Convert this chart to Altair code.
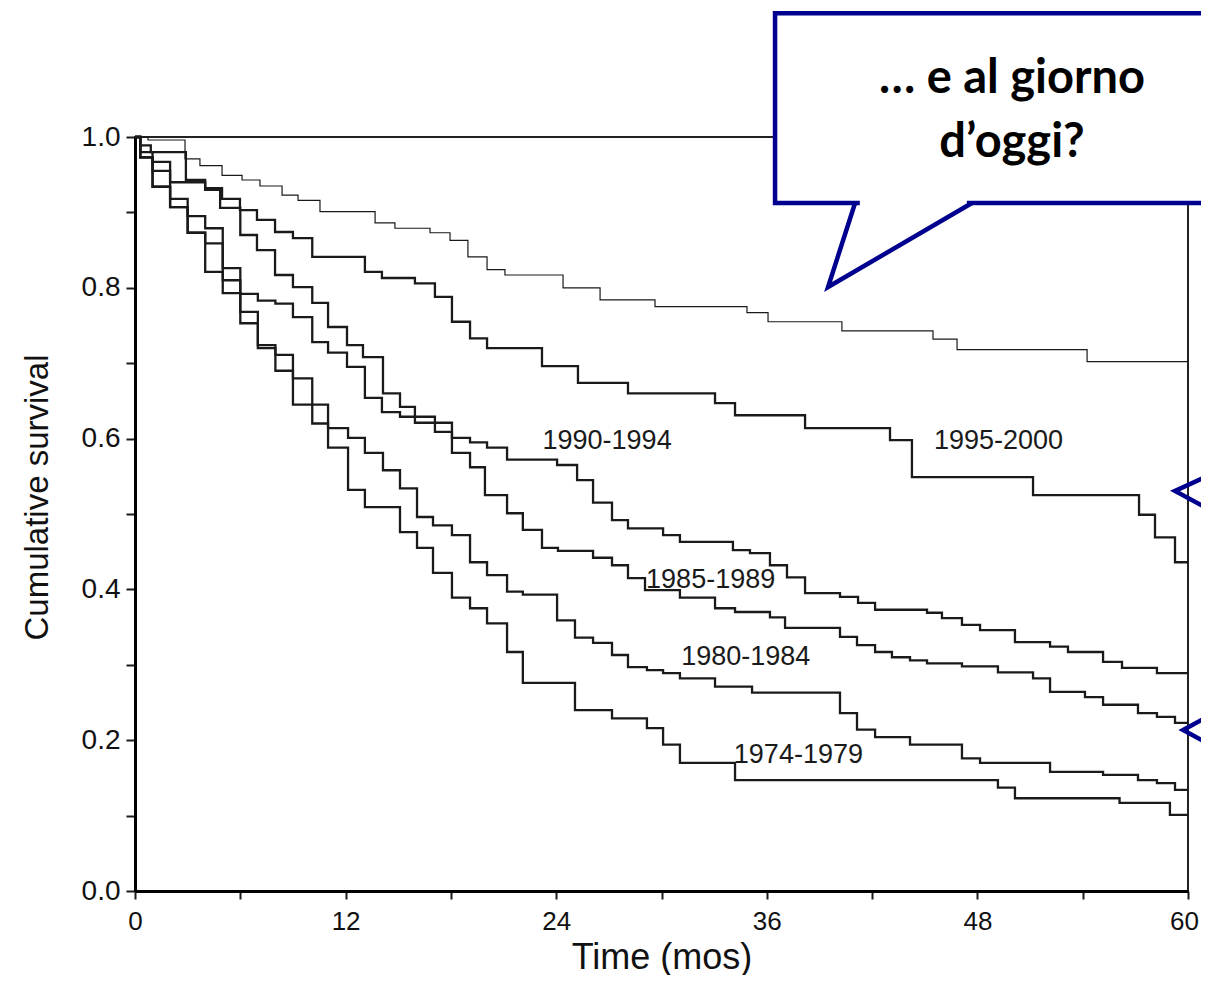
import altair as alt
import pandas as pd

# ---- Kaplan-Meier curves (time in months, cumulative survival) ----
ref_t = [0, 0.74, 2.85, 3.7, 4.96, 6.1, 7.12, 8.38, 9.29, 10.54, 13.68, 14.81, 16.81, 17.95,
         18.97, 20.06, 21.08, 24.39, 26.5, 29.63, 34.87, 36.07, 40.28, 45.47, 46.84, 54.25, 60]
ref_s = [1.0, 0.996, 0.971, 0.962, 0.949, 0.943, 0.935, 0.923, 0.916, 0.901, 0.886, 0.879, 0.873, 0.863,
         0.841, 0.824, 0.817, 0.800, 0.784, 0.775, 0.767, 0.755, 0.743, 0.732, 0.718, 0.702, 0.702]

p9500_t = [0, 0.3, 0.9, 2.9, 4.0, 4.96, 5.98, 6.95, 7.98, 9.0, 10.1, 13.1, 14.07, 15.95, 17.09, 18.06,
           19.09, 20.06, 23.19, 25.24, 28.09, 33.05, 34.19, 38.18, 43.02, 44.27, 51.17, 57.21, 58.12, 59.26, 60]
p9500_s = [1.0, 0.989, 0.980, 0.943, 0.932, 0.918, 0.903, 0.890, 0.874, 0.866, 0.841, 0.821, 0.813, 0.806, 0.788, 0.755,
           0.733, 0.720, 0.696, 0.674, 0.660, 0.647, 0.631, 0.614, 0.598, 0.549, 0.525, 0.499, 0.469, 0.436, 0.436]

p9094_t = [0, 0.3, 1.0, 2.0, 4.0, 4.85, 6.0, 6.95, 7.98, 9.0, 10.1, 11.0, 12.08, 12.99, 14.13, 15.1, 15.95,
           17.09, 18.06, 19.09, 20.06, 21.2, 24.05, 25.19, 26.1, 27.18, 28.09, 30.09, 31.05, 34.07, 35.04, 36.18,
           37.15, 38.18, 40.17, 41.2, 42.17, 45.13, 45.98, 47.12, 48.15, 50.14, 52.14, 53.16, 55.16, 56.24, 58.23, 60]
p9094_s = [1.0, 0.980, 0.967, 0.940, 0.930, 0.906, 0.870, 0.850, 0.817, 0.801, 0.780, 0.748, 0.724, 0.708, 0.660, 0.642, 0.629,
           0.621, 0.601, 0.595, 0.588, 0.572, 0.565, 0.545, 0.515, 0.492, 0.481, 0.472, 0.463, 0.452, 0.448, 0.432,
           0.416, 0.395, 0.390, 0.382, 0.373, 0.369, 0.362, 0.353, 0.346, 0.330, 0.324, 0.317, 0.304, 0.296, 0.289, 0.289]

p8589_t = [0, 0.3, 1.0, 2.0, 3.0, 4.0, 5.0, 6.0, 7.0, 8.0, 9.0, 10.1, 11.0, 12.08, 13.1, 14.07, 15.1, 15.95,
           17.09, 18.06, 19.09, 19.94, 21.2, 22.1, 23.19, 24.1, 26.1, 27.18, 28.09, 29.06, 31.05, 33.05, 34.19,
           36.18, 37.04, 40.17, 41.14, 42.17, 43.13, 44.16, 45.13, 47.12, 49.17, 51.17, 52.14, 54.13, 55.16,
           57.15, 58.23, 59.26, 60]
p8589_s = [1.0, 0.973, 0.955, 0.918, 0.895, 0.879, 0.826, 0.792, 0.783, 0.779, 0.761, 0.728, 0.714, 0.695, 0.654, 0.635, 0.629, 0.621,
           0.609, 0.581, 0.562, 0.525, 0.501, 0.479, 0.455, 0.451, 0.442, 0.432, 0.415, 0.399, 0.389, 0.375, 0.370,
           0.363, 0.349, 0.337, 0.326, 0.317, 0.310, 0.306, 0.302, 0.298, 0.290, 0.282, 0.264, 0.257, 0.247,
           0.236, 0.231, 0.223, 0.223]

p8084_t = [0, 0.3, 1.0, 2.0, 3.0, 4.0, 5.0, 6.0, 7.0, 8.0, 9.0, 10.1, 11.0, 12.14, 13.1, 14.13, 15.1, 16.07,
           16.98, 18.06, 19.09, 20.06, 21.2, 22.1, 24.05, 25.07, 26.1, 27.18, 28.09, 29.17, 30.09, 31.05, 33.05,
           35.16, 40.17, 41.14, 42.17, 44.16, 47.12, 48.15, 52.14, 55.16, 57.15, 58.23, 59.26, 60]
p8084_s = [1.0, 0.973, 0.934, 0.907, 0.873, 0.859, 0.810, 0.768, 0.724, 0.711, 0.680, 0.620, 0.614, 0.601, 0.581, 0.558, 0.534, 0.496,
           0.485, 0.472, 0.436, 0.419, 0.397, 0.393, 0.359, 0.336, 0.329, 0.313, 0.297, 0.293, 0.289, 0.282, 0.271,
           0.263, 0.236, 0.214, 0.204, 0.194, 0.176, 0.170, 0.158, 0.154, 0.147, 0.143, 0.134, 0.134]

p7479_t = [0, 0.3, 1.0, 2.0, 3.0, 4.0, 5.0, 6.0, 7.0, 8.0, 9.0, 11.0, 12.14, 13.1, 15.1, 16.07, 16.98, 18.06,
           19.09, 20.06, 21.2, 22.1, 25.07, 27.18, 29.17, 30.09, 31.05, 34.19, 49.17, 50.14, 56.1, 58.97, 60]
p7479_s = [1.0, 0.973, 0.934, 0.907, 0.873, 0.821, 0.793, 0.753, 0.720, 0.690, 0.645, 0.588, 0.532, 0.509, 0.476, 0.455, 0.422, 0.389,
           0.375, 0.355, 0.317, 0.276, 0.240, 0.229, 0.216, 0.194, 0.170, 0.147, 0.137, 0.123, 0.117, 0.101, 0.101]

# curve labels
label_text = ["1995-2000", "1990-1994", "1985-1989", "1980-1984", "1974-1979"]
label_t = [49.2, 26.9, 32.8, 34.8, 37.8]
label_s = [0.597, 0.597, 0.412, 0.310, 0.180]

# callout text
callout_lines = ["\u2026 e al giorno", "d\u2019oggi?"]
callout_t = [49.97, 49.97]
callout_s = [1.0584, 0.9735]

# speech bubble outline (data coordinates)
bubble_box = dict(x0=36.47, x1=62.5, y0=0.9125, y1=1.164)
tail_t = [41.03, 39.49, 47.69]
tail_s = [0.9125, 0.801, 0.9125]
gap_t = [41.3, 47.4]
# partial bubbles at right edge
chev_shape = ["a", "a", "a", "b", "b", "b"]
chev_t = [61.6, 59.26, 61.6, 61.6, 59.72, 61.6]
chev_s = [0.5557, 0.5305, 0.5013, 0.2374, 0.2135, 0.1897]

BLUE = "#00008f"
INK = "#1a1a1a"

bold_series = [("1995-2000", p9500_t, p9500_s), ("1990-1994", p9094_t, p9094_s),
               ("1985-1989", p8589_t, p8589_s), ("1980-1984", p8084_t, p8084_s),
               ("1974-1979", p7479_t, p7479_s)]
rows = []
for name, ts, ss in bold_series:
    for i, (t, s) in enumerate(zip(ts, ss)):
        rows.append({"series": name, "t": t, "s": s, "i": i})
bold_df = pd.DataFrame(rows)
ref_df = pd.DataFrame({"t": ref_t, "s": ref_s, "i": range(len(ref_t))})
lab_df = pd.DataFrame({"text": label_text, "t": label_t, "s": label_s})
call_df = pd.DataFrame({"text": callout_lines, "t": callout_t, "s": callout_s})
box_df = pd.DataFrame([bubble_box])
tail_df = pd.DataFrame({"t": tail_t, "s": tail_s, "i": range(3)})
gap_df = pd.DataFrame({"t": [gap_t[0]], "t2": [gap_t[1]], "s": [bubble_box["y0"]]})
chev_df = pd.DataFrame({"shape": chev_shape, "t": chev_t, "s": chev_s, "i": range(6)})

xs = alt.Scale(domain=[0, 60], nice=False, zero=False)
ys = alt.Scale(domain=[0, 1], nice=False, zero=False)
FONT = "Liberation Sans"

x_axis = alt.Axis(
    values=list(range(0, 61, 6)),
    labelExpr="datum.value % 12 == 0 ? datum.value : ''",
    tickSize=8, tickWidth=2, tickColor=INK,
    domainWidth=3, domainColor="#000",
    labelFont=FONT, labelFontSize=26, labelColor="#111", labelPadding=9, labelFlush=False,
    labelOffset={"condition": {"test": "datum.value == 60", "value": -4}, "value": 0},
    title="Time (mos)", titleFont=FONT, titleFontSize=36, titleFontWeight="normal",
    titleColor="#111", titleY=77, titleBaseline="alphabetic", grid=False,
)
y_axis = alt.Axis(
    values=[round(v * 0.1, 1) for v in range(11)],
    labelExpr="round(datum.value * 10) % 2 == 0 ? format(datum.value, '.1f') : ''",
    tickSize=9, tickWidth=2, tickColor=INK,
    domainWidth=3, domainColor="#000",
    labelFont=FONT, labelFontSize=28, labelColor="#111", labelPadding=6,
    title="Cumulative survival", titleFont=FONT, titleFontSize=33, titleFontWeight="normal",
    titleColor="#111", titleX=-98, titleY=360, titleAngle=270, titleBaseline="middle",
    titleAlign="center", grid=False,
)

X = lambda f: alt.X(f, scale=xs, axis=x_axis)
Y = lambda f: alt.Y(f, scale=ys, axis=y_axis)

ref_line = alt.Chart(ref_df).mark_line(interpolate="step-after", color=INK, strokeWidth=1.2).encode(
    x=X("t:Q"), y=Y("s:Q"), order="i:Q",
)
bold_lines = alt.Chart(bold_df).mark_line(interpolate="step-after", color=INK, strokeWidth=2.3).encode(
    x=X("t:Q"), y=Y("s:Q"), detail="series:N", order="i:Q",
)
labels = alt.Chart(lab_df).mark_text(font=FONT, fontSize=27, color=INK, align="center",
                                     baseline="middle").encode(
    x=X("t:Q"), y=Y("s:Q"), text="text:N",
)
box = alt.Chart(box_df).mark_rect(fill="white", stroke=BLUE, strokeWidth=4.5).encode(
    x=X("x0:Q"), x2="x1:Q", y=Y("y0:Q"), y2="y1:Q",
)
gap = alt.Chart(gap_df).mark_rule(color="white", strokeWidth=8).encode(
    x=X("t:Q"), x2="t2:Q", y=Y("s:Q"),
)
tail = alt.Chart(tail_df).mark_line(color=BLUE, strokeWidth=4.5, strokeJoin="miter").encode(
    x=X("t:Q"), y=Y("s:Q"), order="i:Q",
)
chev = alt.Chart(chev_df).mark_line(color=BLUE, strokeWidth=4.5, strokeJoin="miter").encode(
    x=X("t:Q"), y=Y("s:Q"), detail="shape:N", order="i:Q",
)
callout = alt.Chart(call_df).mark_text(font="Lato", fontWeight="bold", fontSize=47, color="#000",
                                       align="center", baseline="alphabetic").encode(
    x=X("t:Q"), y=Y("s:Q"), text="text:N",
)

chart = alt.layer(ref_line, bold_lines, labels, box, gap, tail, chev, callout).properties(
    width=1053, height=754,
    autosize=alt.AutoSizeParams(type="none"),
    padding={"left": 127, "top": 129, "right": 13, "bottom": 84},
    background="white",
).configure_view(stroke="#222", strokeWidth=2)

chart.save("out.html", embed_options={"renderer": "svg", "actions": False})
